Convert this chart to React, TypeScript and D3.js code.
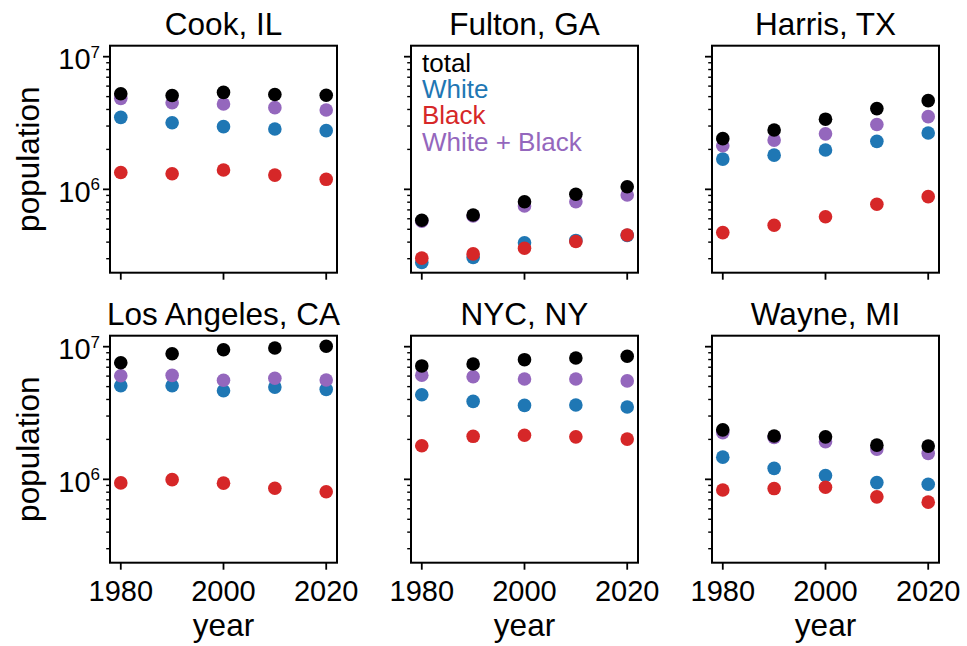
import React from "react";
import * as d3 from "d3";

// census years and counties
const years = [1980, 1990, 2000, 2010, 2020];
const counties = ["Cook, IL", "Fulton, GA", "Harris, TX", "Los Angeles, CA", "NYC, NY", "Wayne, MI"];
const seriesNames = ["total", "White", "Black", "White + Black"];
const seriesColors = ["#000000", "#1f77b4", "#d62728", "#9467bd"];
const xTicks = [1980, 2000, 2020];

// values
const cookTotal = [5.25e6, 5.1e6, 5.38e6, 5.19e6, 5.12e6];
const cookWhite = [3.49e6, 3.18e6, 2.97e6, 2.85e6, 2.77e6];
const cookBlack = [1.34e6, 1.31e6, 1.4e6, 1.28e6, 1.19e6];
const cookWB = [4.85e6, 4.5e6, 4.4e6, 4.13e6, 3.96e6];

const fultonTotal = [5.85e5, 6.41e5, 8.07e5, 9.18e5, 1.047e6];
const fultonWhite = [2.81e5, 3.06e5, 3.96e5, 4.12e5, 4.5e5];
const fultonBlack = [3.03e5, 3.26e5, 3.6e5, 4.04e5, 4.53e5];
const fultonWB = [5.75e5, 6.3e5, 7.5e5, 8.07e5, 9.06e5];

const harrisTotal = [2.41e6, 2.8e6, 3.38e6, 4.06e6, 4.66e6];
const harrisWhite = [1.69e6, 1.81e6, 1.98e6, 2.3e6, 2.66e6];
const harrisBlack = [4.72e5, 5.36e5, 6.22e5, 7.72e5, 8.81e5];
const harrisWB = [2.13e6, 2.35e6, 2.62e6, 3.08e6, 3.53e6];

const laTotal = [7.57e6, 8.85e6, 9.49e6, 9.77e6, 1.007e7];
const laWhite = [5.08e6, 5.08e6, 4.65e6, 4.96e6, 4.77e6];
const laBlack = [9.4e5, 9.95e5, 9.36e5, 8.57e5, 8.07e5];
const laWB = [6.04e6, 6.08e6, 5.58e6, 5.78e6, 5.61e6];

const nycTotal = [7.16e6, 7.41e6, 7.98e6, 8.22e6, 8.47e6];
const nycWhite = [4.34e6, 3.87e6, 3.61e6, 3.63e6, 3.51e6];
const nycBlack = [1.79e6, 2.11e6, 2.15e6, 2.09e6, 2.01e6];
const nycWB = [6.1e6, 5.94e6, 5.71e6, 5.71e6, 5.52e6];

const wayneTotal = [2.36e6, 2.12e6, 2.09e6, 1.81e6, 1.78e6];
const wayneWhite = [1.47e6, 1.21e6, 1.07e6, 9.45e5, 9.18e5];
const wayneBlack = [8.32e5, 8.52e5, 8.72e5, 7.38e5, 6.73e5];
const wayneWB = [2.25e6, 2.07e6, 1.92e6, 1.69e6, 1.57e6];

// per county: [total, White, Black, White + Black]
const countyData = [
  [cookTotal, cookWhite, cookBlack, cookWB],
  [fultonTotal, fultonWhite, fultonBlack, fultonWB],
  [harrisTotal, harrisWhite, harrisBlack, harrisWB],
  [laTotal, laWhite, laBlack, laWB],
  [nycTotal, nycWhite, nycBlack, nycWB],
  [wayneTotal, wayneWhite, wayneBlack, wayneWB],
];

const W = 967;
const H = 646;
const size = 227;
const left0 = 110;
const colStep = 301;
const top0 = 45.7;
const rowStep = 290;
const font = "'Liberation Sans', Arial, Helvetica, sans-serif";

// draw order: White, Black, White + Black, total on top
const drawOrder = [1, 2, 3, 0];

function Panel({ idx }: { idx: number }) {
  const col = idx % 3;
  const row = Math.floor(idx / 3);
  const x0 = left0 + col * colStep;
  const y0 = top0 + row * rowStep;

  const x = d3.scaleLinear().domain([1977.9, 2022.1]).range([x0, x0 + size]);
  const y = d3.scaleLog().domain([2.353e5, 1.21e7]).range([y0 + size, y0]);

  const allTicks = y.ticks().filter((t) => t >= y.domain()[0] && t <= y.domain()[1]);
  const isMajor = (t: number) => Math.abs(Math.log10(t) - Math.round(Math.log10(t))) < 1e-9;

  const data = countyData[idx];

  return (
    <g>
      {drawOrder.map((s) => (
        <g key={s}>
          {data[s].map((v, i) => (
            <circle key={i} cx={x(years[i])} cy={y(v)} r={6.8} fill={seriesColors[s]} />
          ))}
        </g>
      ))}

      {/* y ticks */}
      {allTicks.map((t) => (
        <line
          key={"y" + t}
          x1={x0}
          x2={x0 - (isMajor(t) ? 7 : 3.8)}
          y1={y(t)}
          y2={y(t)}
          stroke="#000"
          strokeWidth={isMajor(t) ? 1.8 : 1.4}
        />
      ))}
      {col === 0 &&
        allTicks.filter(isMajor).map((t) => (
          <text key={"yl" + t} x={x0 - 10} y={y(t) + 12.5} textAnchor="end" fontSize={29} fontFamily={font}>
            10
            <tspan fontSize={17} dy={-11.5}>
              {Math.round(Math.log10(t))}
            </tspan>
          </text>
        ))}

      {/* x ticks */}
      {xTicks.map((t) => (
        <line key={"x" + t} x1={x(t)} x2={x(t)} y1={y0 + size} y2={y0 + size + 7} stroke="#000" strokeWidth={1.8} />
      ))}
      {row === 1 &&
        xTicks.map((t) => (
          <text key={"xl" + t} x={x(t)} y={y0 + size + 38} textAnchor="middle" fontSize={29} fontFamily={font}>
            {t}
          </text>
        ))}

      <rect x={x0} y={y0} width={size} height={size} fill="none" stroke="#000" strokeWidth={2} />

      <text x={x0 + size / 2} y={y0 - 11} textAnchor="middle" fontSize={31.5} fontFamily={font}>
        {counties[idx]}
      </text>

      {col === 0 && (
        <text
          transform={`translate(38.5,${y0 + size / 2}) rotate(-90)`}
          textAnchor="middle"
          fontSize={31.5}
          fontFamily={font}
        >
          population
        </text>
      )}
      {row === 1 && (
        <text x={x0 + size / 2} y={y0 + size + 73.5} textAnchor="middle" fontSize={31.5} fontFamily={font}>
          year
        </text>
      )}

      {idx === 1 &&
        seriesNames.map((name, i) => (
          <text key={name} x={x0 + 11} y={y0 + 26 + i * 26.3} fontSize={26} fontFamily={font} fill={seriesColors[i]}>
            {name}
          </text>
        ))}
    </g>
  );
}

export default function App() {
  return (
    <svg
      width={W}
      height={H}
      viewBox={`0 0 ${W} ${H}`}
      style={{ position: "absolute", left: 0, top: 0, background: "#fff" }}
    >
      {counties.map((c, i) => (
        <Panel key={c} idx={i} />
      ))}
    </svg>
  );
}
